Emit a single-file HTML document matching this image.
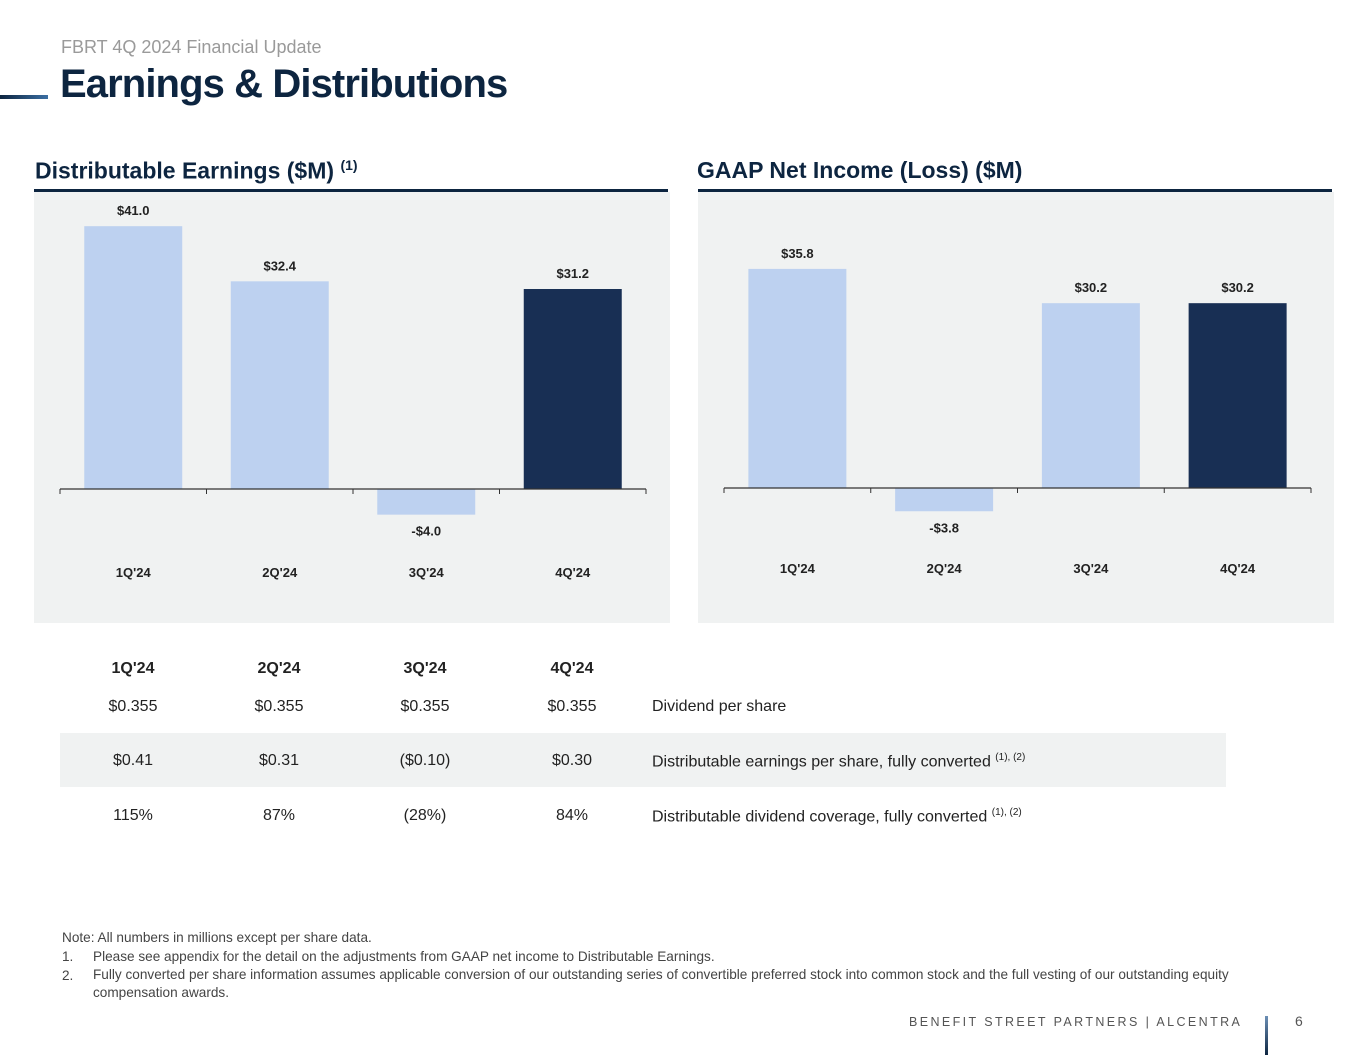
<!DOCTYPE html>
<html><head><meta charset="utf-8"><style>
body{margin:0;width:1365px;height:1055px;background:#fff;position:relative;font-family:"Liberation Sans",Arial,sans-serif;overflow:hidden}
.a{position:absolute;white-space:nowrap}
svg text{font-family:"Liberation Sans",Arial,sans-serif}
</style></head><body>
<div class="a" style="left:61px;top:37px;font-size:18px;color:#9a9a9a">FBRT 4Q 2024 Financial Update</div>
<div class="a" style="left:60px;top:62px;font-size:40px;font-weight:bold;color:#0d2540;letter-spacing:-0.9px">Earnings &amp; Distributions</div>
<div class="a" style="left:0;top:95px;width:48px;height:4px;background:linear-gradient(90deg,#0d2540,#3b6fa3)"></div>
<div class="a" style="left:35px;top:157px;font-size:23px;font-weight:bold;color:#0d2540">Distributable Earnings ($M) <sup style="font-size:14px">(1)</sup></div>
<div class="a" style="left:697px;top:157px;font-size:23px;font-weight:bold;color:#0d2540">GAAP Net Income (Loss) ($M)</div>
<svg class="a" style="left:0;top:0" width="1365" height="1055" id="charts"></svg>
<div class="a" style="left:60px;top:733px;width:1166px;height:54px;background:#f0f2f2"></div>
<div id="tbl"></div>
<div class="a" style="left:62px;top:928px;font-size:13.6px;color:#444;line-height:19px;white-space:normal;width:1240px">
Note: All numbers in millions except per share data.<br>
<span style="position:absolute;left:0">1.</span><span style="margin-left:31px">Please see appendix for the detail on the adjustments from GAAP net income to Distributable Earnings.</span><br>
<span style="position:absolute;left:0">2.</span><div style="margin-left:31px;line-height:18px;width:1190px">Fully converted per share information assumes applicable conversion of our outstanding series of convertible preferred stock into common stock and the full vesting of our outstanding equity compensation awards.</div>
</div>
<div class="a" style="left:909px;top:1015px;font-size:12.5px;letter-spacing:2.4px;color:#555">BENEFIT STREET PARTNERS | ALCENTRA</div>
<div class="a" style="left:1265px;top:1016px;width:3px;height:39px;background:linear-gradient(#6c8fb5,#0d2540)"></div>
<div class="a" style="left:1295px;top:1013px;font-size:14px;color:#555">6</div>
<script>
const categories=["1Q'24","2Q'24","3Q'24","4Q'24"];
const deValues=[41.0,32.4,-4.0,31.2];
const niValues=[35.8,-3.8,30.2,30.2];
const tableCols=["1Q'24","2Q'24","3Q'24","4Q'24"];
const dividendRow=["$0.355","$0.355","$0.355","$0.355"];
const epsRow=["$0.41","$0.31","($0.10)","$0.30"];
const coverageRow=["115%","87%","(28%)","84%"];
const NS="http://www.w3.org/2000/svg";
const svg=document.getElementById('charts');
function el(t,a,p){const e=document.createElementNS(NS,t);for(const k in a)e.setAttribute(k,a[k]);(p||svg).appendChild(e);return e;}
function chart(px,x0,x1,base,scale,vals,catY,key){
  const bg=el('rect',{x:px,y:192,width:636,height:431,fill:'#f0f2f2'});
  
  
  const hl=el('rect',{x:px,y:189,width:634,height:3,fill:'#0d2540'});
  
  
  const step=(x1-x0)/vals.length;
  const y=v=>base-v*scale;
  vals.forEach((v,i)=>{
    const cx=x0+step*(i+0.5),w=98;
    const top=Math.min(y(v),base),h=Math.abs(y(v)-base);
    const r=el('rect',{x:cx-w/2,y:top,width:w,height:h,fill:i==vals.length-1?'#182f54':'#bdd1f0'});
    
    
    const lbl=v<0?'-$'+Math.abs(v).toFixed(1):'$'+v.toFixed(1);
    const t=el('text',{x:cx,y:v<0?y(v)+21:y(v)-11,'text-anchor':'middle','font-size':13,'font-weight':'bold',fill:'#222'});
    t.textContent=lbl;
    
    
    const c=el('text',{x:cx,y:catY,'text-anchor':'middle','font-size':13,'font-weight':'bold',fill:'#222'});
    c.textContent=categories[i];
    
    
  });
  const ax=el('line',{x1:x0,x2:x1,y1:base,y2:base,stroke:'#333','stroke-width':1.2});
  
  
  for(let i=0;i<=vals.length;i++){
    const tk=el('line',{x1:x0+step*i,x2:x0+step*i,y1:base,y2:base+5,stroke:'#333'});
    
    
  }
}
chart(34,60,646,489,6.41,deValues,577,'de');
chart(698,724,1311,488,6.12,niValues,573,'ni');
const tbl=document.getElementById('tbl');
const cx=[133,279,425,572];
function row(vals,top,bold,label,sup,name){
  vals.forEach((v,i)=>{
    const d=document.createElement('div');
    d.className='a';
    d.style.cssText=`left:${cx[i]-60}px;width:120px;text-align:center;top:${top}px;font-size:16px;color:#222;${bold?'font-weight:bold;':''}`;
    d.textContent=v;
    
    
    tbl.appendChild(d);
  });
  if(label){
    const d=document.createElement('div');
    d.className='a';
    d.style.cssText=`left:652px;top:${top}px;font-size:16px;color:#222`;
    d.innerHTML=label+(sup?' <sup style="font-size:10px">(1), (2)</sup>':'');
    
    
    tbl.appendChild(d);
  }
}
row(tableCols,660,true,null,false,'table-header');
row(dividendRow,698,false,'Dividend per share',false,'dividend-row');
row(epsRow,752,false,'Distributable earnings per share, fully converted',true,'eps-row');
row(coverageRow,807,false,'Distributable dividend coverage, fully converted',true,'coverage-row');
</script>
</body></html>
